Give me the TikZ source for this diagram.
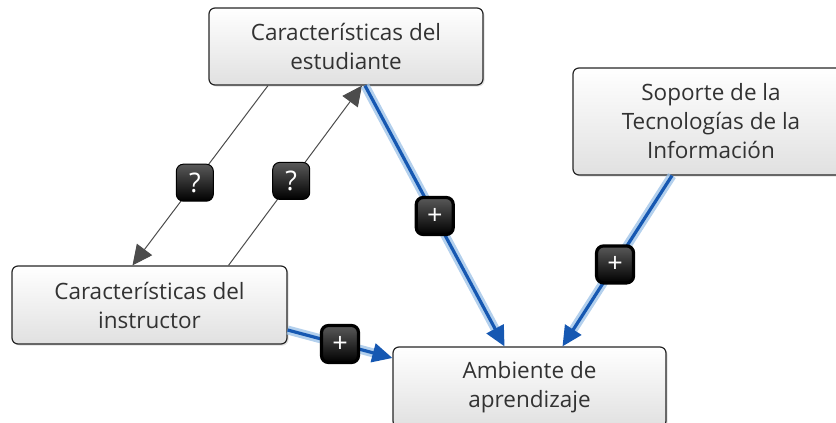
\documentclass[tikz,border=0pt]{standalone}
\usepackage{fontspec}
\setmainfont{Open Sans}
\usetikzlibrary{arrows.meta,shadows,calc}
\definecolor{linkblue}{RGB}{22,88,178}
\definecolor{halo}{RGB}{160,196,232}
\definecolor{txtgray}{RGB}{50,50,50}
\tikzset{
  concept/.style={draw=black!85, line width=1.2pt, rounded corners=6pt,
    top color=white, bottom color=black!12, text=txtgray,
    align=center, font=\fontsize{22.5}{29}\selectfont,
    drop shadow={shadow xshift=1.5pt, shadow yshift=-1.5pt, opacity=0.25}},
  badge/.style={rounded corners=7pt, minimum size=37pt, inner sep=0pt,
    top color=black!65, bottom color=black, text=white, draw=black,
    font=\fontsize{27}{27}\selectfont},
  query/.style={draw=black!65, line width=1pt, -{Triangle[length=20pt,width=19pt]}, black!70},
  link/.style={draw=linkblue, line width=3.2pt, -{Triangle[length=20pt,width=19pt]},
    preaction={draw=halo, line width=9pt, opacity=0.8, -{}, shorten >=12pt}}
}
\begin{document}
\begin{tikzpicture}[x=1pt, y=-1pt]
  \useasboundingbox (0,0) rectangle (836,423);
  \clip (0,0) rectangle (836,423);
  \node[concept, minimum width=274pt, minimum height=77pt] (estudiante) at (346,46.5) {Características del\\estudiante};
  \node[concept, minimum width=276pt, minimum height=107pt] (soporte) at (711,121.5) {Soporte de la\\Tecnologías de la\\Información};
  \node[concept, minimum width=275pt, minimum height=78pt] (instructor) at (149.5,305) {Características del\\instructor};
  \node[concept, minimum width=273pt, minimum height=80pt] (ambiente) at (529.5,387) {Ambiente de\\aprendizaje};
  % preguntas
  \draw[query] ([xshift=-78pt]estudiante.south) -- ([xshift=-17pt]instructor.north)
    node[badge, pos=0.54] (q1) {?};
  \draw[query] ([xshift=79pt]instructor.north) -- ([xshift=16pt]estudiante.south)
    node[badge, pos=0.47] (q2) {?};
  % influencias
  \draw[link] ([xshift=19pt]estudiante.south) -- ([xshift=-25pt]ambiente.north)
    node[badge, pos=0.5] (p1) {+};
  \draw[link] ([xshift=-39pt]soporte.south) -- ([xshift=33pt]ambiente.north)
    node[badge, pos=0.52] (p2) {+};
  \draw[link] ([yshift=-25pt]instructor.east) -- ([yshift=29pt]ambiente.west)
    node[badge, pos=0.5] (p3) {+};
\end{tikzpicture}
\end{document}
